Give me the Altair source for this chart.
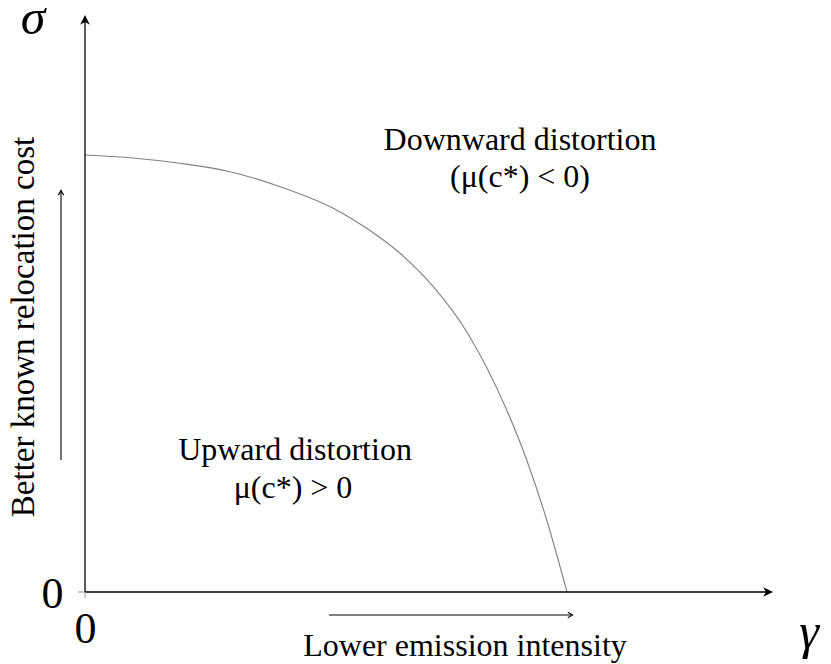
import altair as alt
import pandas as pd

# Boundary curve (gamma, sigma)
gamma = [0.0, 0.0934, 0.1971, 0.3008, 0.4046, 0.5151, 0.5844, 0.6535, 0.7226, 0.7919, 0.8749, 0.9164, 0.9579, 1.0]
sigma = [1.0, 0.9938, 0.9810, 0.9618, 0.9275, 0.8780, 0.8323, 0.7751, 0.6986, 0.5957, 0.4165, 0.3021, 0.1648, 0.0]

# Texts
region_texts = ["Downward distortion", "(μ(c*) < 0)", "Upward distortion", "μ(c*) > 0"]
axis_caption_x = "Lower emission intensity"
axis_caption_y = "Better known relocation cost"
symbol_x = "γ"
symbol_y = "σ"
zero_label = "0"

# ---- layout (data units; origin of axes at (0,0), curve meets gamma axis at 1) ----
W, H = 815, 656
PX, PY, SX, SY = 85, 592, 482, 437  # pixel origin and pixels per unit


def gx(px):
    return (px - PX) / SX


def gy(py):
    return (PY - py) / SY


XDOM = [gx(8), gx(8 + W)]
YDOM = [gy(8 + H), gy(8)]
xs = alt.Scale(domain=XDOM, range=[0, W], nice=False, zero=False)
ys = alt.Scale(domain=YDOM, range=[H, 0], nice=False, zero=False)
FONT = "Liberation Serif"


def X(field="x"):
    return alt.X(field, type="quantitative", scale=xs, axis=None)


def Y(field="y"):
    return alt.Y(field, type="quantitative", scale=ys, axis=None)


curve_df = pd.DataFrame({"x": gamma, "y": sigma})
curve = alt.Chart(curve_df).mark_line(color="#808080", strokeWidth=1.1, interpolate="monotone").encode(
    x=X(), y=Y(), order="x:Q"
)

# axis lines and annotation arrows (segments)
seg_df = pd.DataFrame({
    "x": [0.0, 0.0, gx(329), gx(61)],
    "x2": [gx(767), 0.0, gx(571), gx(61)],
    "y": [0.0, 0.0, gy(615), gy(460)],
    "y2": [0.0, gy(21), gy(615), gy(192)],
    "w": [1.3, 1.3, 1.1, 1.1],
})
segs = alt.Chart(seg_df).mark_rule(color="black").encode(
    x=X(), x2="x2", y=Y(), y2="y2", strokeWidth=alt.StrokeWidth("w:Q", scale=None)
)

ticks_df = pd.DataFrame({"x": [gx(78), 0.0], "x2": [0.0, 0.0], "y": [0.0, 0.0], "y2": [0.0, gy(598)]})
ticks = alt.Chart(ticks_df).mark_rule(color="#999999", strokeWidth=1).encode(
    x=X(), x2="x2", y=Y(), y2="y2"
)

# filled axis arrowheads (tip at data point, pointing up, rotated)
head_path = "M0,0 L0.5,1 L0,0.72 L-0.5,1 Z"
heads_df = pd.DataFrame({"x": [0.0, gx(773)], "y": [gy(15), 0.0], "a": [0, 90]})
heads = alt.Chart(heads_df).mark_point(shape=head_path, filled=True, color="black", size=380, opacity=1).encode(
    x=X(), y=Y(), angle=alt.Angle("a:Q", scale=None)
)

# open annotation arrowheads
open_path = "M-0.55,1 Q-0.1,0.4 0,0 Q0.1,0.4 0.55,1"
oh_df = pd.DataFrame({"x": [gx(573), gx(61)], "y": [gy(615), gy(190)], "a": [90, 0]})
oheads = alt.Chart(oh_df).mark_point(shape=open_path, filled=False, color="black", size=110,
                                     strokeWidth=1.1, opacity=1).encode(
    x=X(), y=Y(), angle=alt.Angle("a:Q", scale=None)
)

# texts (alphabetic baselines)
txt_df = pd.DataFrame({
    "t": region_texts + [axis_caption_x],
    "x": [gx(520), gx(520), gx(295), gx(293), gx(465)],
    "y": [gy(150), gy(187), gy(460), gy(498), gy(656)],
})
texts = alt.Chart(txt_df).mark_text(font=FONT, fontSize=32, color="black", baseline="alphabetic",
                                    align="center").encode(
    x=X(), y=Y(), text="t:N"
)

ylab = alt.Chart(pd.DataFrame({"t": [axis_caption_y], "x": [gx(34)], "y": [gy(327)]})).mark_text(
    font=FONT, fontSize=33, color="black", baseline="alphabetic", align="center", angle=270
).encode(x=X(), y=Y(), text="t:N")

sym_df = pd.DataFrame({
    "t": [symbol_y, symbol_x],
    "x": [gx(33), gx(809)],
    "y": [gy(34), gy(648)],
})
syms = alt.Chart(sym_df).mark_text(font=FONT, fontSize=50, fontStyle="italic", color="black",
                                   baseline="alphabetic", align="center").encode(
    x=X(), y=Y(), text="t:N"
)

zero_df = pd.DataFrame({
    "t": [zero_label, zero_label],
    "x": [gx(52.5), gx(85.5)],
    "y": [gy(608), gy(643)],
})
zeros = alt.Chart(zero_df).mark_text(font=FONT, fontSize=44, color="black", baseline="alphabetic",
                                     align="center").encode(
    x=X(), y=Y(), text="t:N"
)

chart = alt.layer(curve, segs, ticks, heads, oheads, texts, ylab, syms, zeros).properties(
    width=W, height=H, autosize=alt.AutoSizeParams(type="none"), padding=0
).configure_view(stroke=None)

chart.save("out.html", embed_options={"renderer": "svg", "actions": False})
